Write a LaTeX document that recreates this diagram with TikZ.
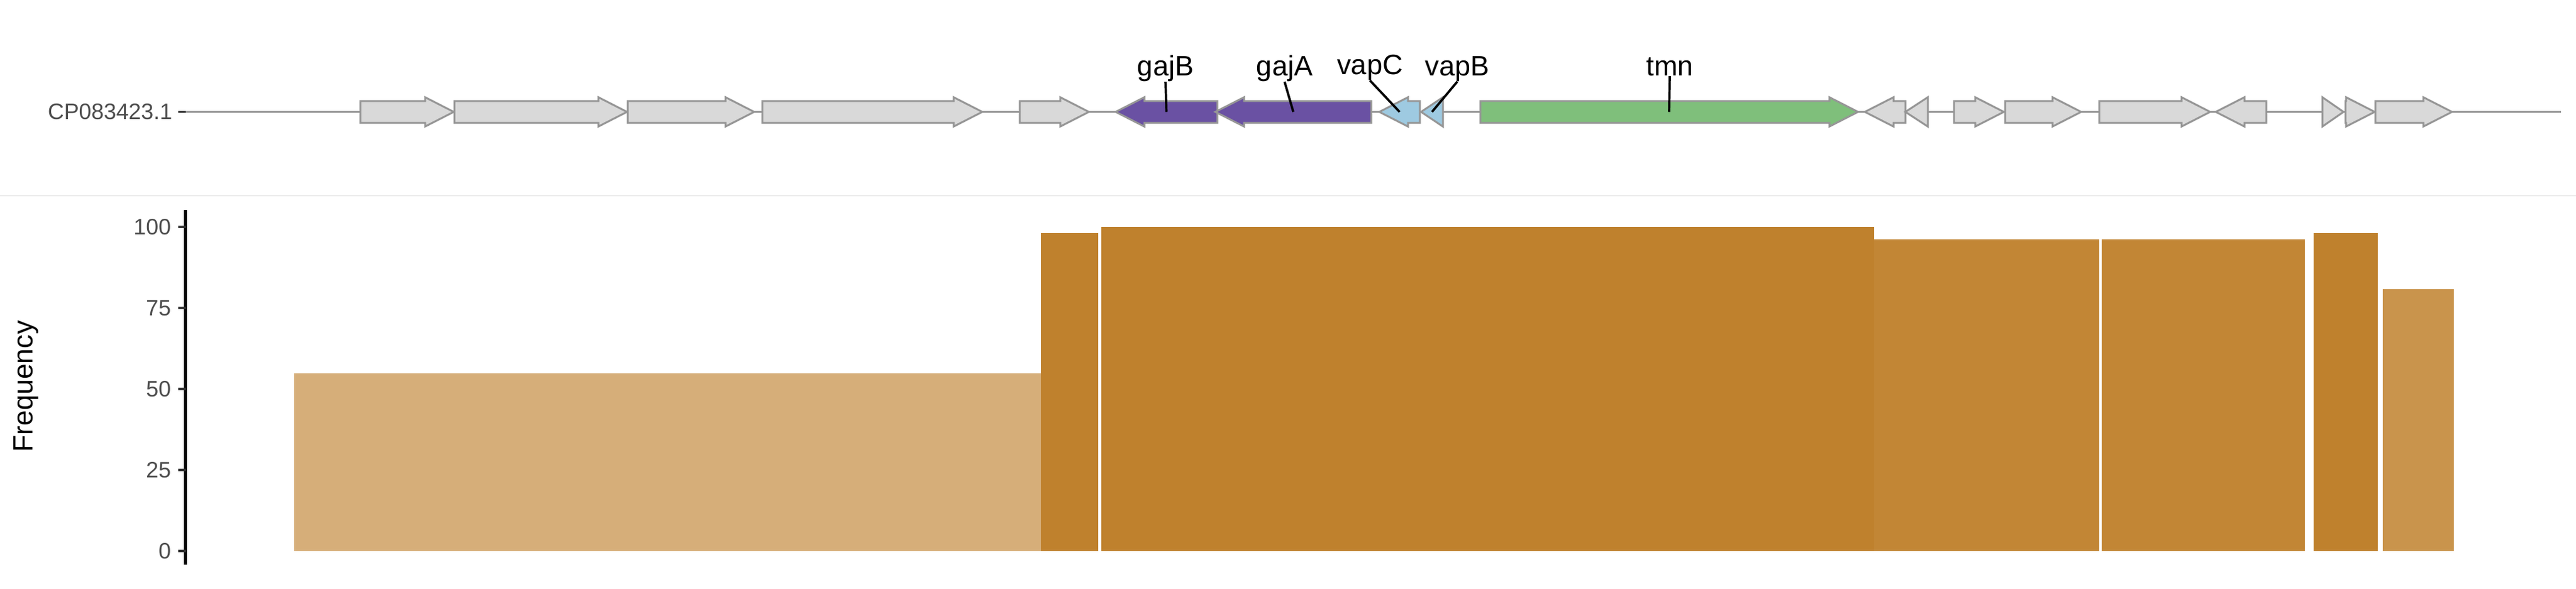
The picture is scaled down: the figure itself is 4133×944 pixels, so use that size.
\documentclass[tikz,border=0pt]{standalone}
\usepackage{fontspec}
\setmainfont{Liberation Sans}
\definecolor{genegray}{RGB}{217,217,217}
\definecolor{outl}{RGB}{150,150,150}
\definecolor{gpurple}{HTML}{6A51A3}
\definecolor{gblue}{HTML}{9ECAE1}
\definecolor{ggreen}{HTML}{7FBF7B}
\definecolor{barc}{HTML}{BF812D}
\definecolor{axtext}{HTML}{4D4D4D}
\definecolor{tickc}{HTML}{333333}
\definecolor{sepc}{HTML}{EBEBEB}
% right-pointing gene: start, end, fill
\newcommand{\geneR}[3]{%
  \pgfmathsetmacro{\genelen}{#2-#1}%
  \pgfmathsetmacro{\genebase}{#2-46}%
  \ifdim\genelen pt<46pt
    \draw[genestyle, fill=#3] (#1,156) -- (#2,179.5) -- (#1,203) -- cycle;
  \else
    \draw[genestyle, fill=#3] (#1,162) -- (\genebase,162) -- (\genebase,156) -- (#2,179.5) -- (\genebase,203) -- (\genebase,197) -- (#1,197) -- cycle;
  \fi}
% left-pointing gene: tip, end, fill
\newcommand{\geneL}[3]{%
  \pgfmathsetmacro{\genelen}{#2-#1}%
  \pgfmathsetmacro{\genebase}{#1+46}%
  \ifdim\genelen pt<46pt
    \draw[genestyle, fill=#3] (#2,156) -- (#1,179.5) -- (#2,203) -- cycle;
  \else
    \draw[genestyle, fill=#3] (#2,162) -- (\genebase,162) -- (\genebase,156) -- (#1,179.5) -- (\genebase,203) -- (\genebase,197) -- (#2,197) -- cycle;
  \fi}
\begin{document}
\begin{tikzpicture}[x=0.01cm, y=-0.01cm,
  genestyle/.style={draw=outl, line width=0.85pt, line join=miter},
  genelab/.style={font=\fontsize{12.8pt}{15pt}\selectfont, inner sep=0pt, anchor=base, text=black},
  leader/.style={draw=black, line width=1.05pt},
  axlab/.style={font=\fontsize{10.2pt}{12pt}\selectfont, inner sep=0pt, text=axtext, anchor=east},
  bar/.style={draw=none}]
\useasboundingbox (0,0) rectangle (4133,944);
\fill[white] (0,0) rectangle (4133,944);

% ---------- gene track ----------
\node[axlab] (mol) at (277,179.5) {CP083423.1};
\draw[tickc, line width=1.1pt] (286,179.5) -- (297.5,179.5);
\draw[outl, line width=1.1pt] (297.5,179.5) -- (4109,179.5);

\geneR{578}{728}{genegray}
\geneR{729}{1006}{genegray}
\geneR{1007}{1210}{genegray}
\geneR{1223}{1576}{genegray}
\geneR{1636}{1747}{genegray}
\geneL{1790}{1953}{gpurple}
\geneL{1950}{2200}{gpurple}
\geneL{2213}{2278}{gblue}
\geneL{2280}{2315}{gblue}
\geneR{2375}{2981}{ggreen}
\geneL{2992}{3057}{genegray}
\geneL{3057}{3093}{genegray}
\geneR{3135}{3215}{genegray}
\geneR{3217}{3339}{genegray}
\geneR{3368}{3546}{genegray}
\geneL{3555}{3636}{genegray}
\geneR{3726}{3760}{genegray}
\geneR{3763}{3810}{genegray}
\geneR{3811}{3934}{genegray}

\coordinate (cgajB) at (1871.5,179.5);
\coordinate (cgajA) at (2075,179.5);
\coordinate (cvapC) at (2245.5,179.5);
\coordinate (cvapB) at (2297.5,179.5);
\coordinate (ctmn) at (2678,179.5);

\node[genelab] (lgajB) at (1870,121) {gajB};
\node[genelab] (lgajA) at (2061,121) {gajA};
\node[genelab] (lvapC) at (2198,119) {vapC};
\node[genelab] (lvapB) at (2338,121) {vapB};
\node[genelab] (ltmn) at (2679,121) {tmn};

\draw[leader] (lgajB.south) -- (cgajB);
\draw[leader] (lgajA.south) -- (cgajA);
\draw[leader] (lvapC.south) -- (cvapC);
\draw[leader] (lvapB.south) -- (cvapB);
\draw[leader] (ltmn.south) -- (ctmn);

% separator
\draw[sepc, line width=0.6pt] (0,314) -- (4133,314);

% ---------- bar panel ----------
\fill[barc!64] (472,599) rectangle (1670,884);
\fill[barc] (1670,374) rectangle (1762,884);
\fill[barc] (1767,364) rectangle (3007,884);
\fill[barc!96] (3007,384) rectangle (3368,884);
\fill[barc!96] (3372,384) rectangle (3698,884);
\fill[barc] (3712,374) rectangle (3815,884);
\fill[barc!85] (3823,464) rectangle (3937,884);

% axis
\draw[black, line width=1.22pt] (297.5,337) -- (297.5,906);
\foreach \v/\yy in {0/884, 25/754, 50/624, 75/494, 100/364} {
  \draw[tickc, line width=1.1pt] (286,\yy) -- (297.5,\yy);
  \node[axlab] (t\v) at (275,\yy) {\v};
}
\node[font=\fontsize{12.7pt}{15pt}\selectfont, inner sep=0pt, rotate=90] (ytitle) at (42,620) {Frequency};
\end{tikzpicture}
\end{document}
